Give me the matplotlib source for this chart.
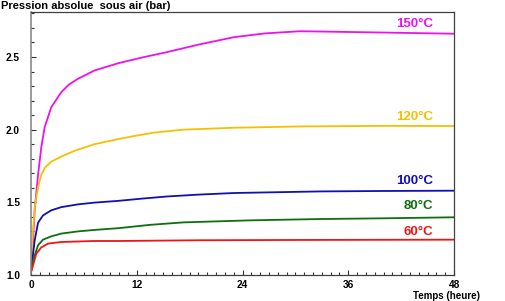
import numpy as np
import matplotlib
matplotlib.use("Agg")
import matplotlib.pyplot as plt
from matplotlib.ticker import MultipleLocator

plt.rcParams['font.family'] = ['Liberation Sans', 'DejaVu Sans']

# temps (heures) / pression absolue (bar)
t150 = [0, 0.1, 0.23, 0.42, 0.8, 1.17, 1.55, 2.3, 3.44, 4.3, 5.33, 7.2, 9.9, 12.5, 15.4, 19.0, 23.0, 26.5, 30.5, 33.0, 40.0, 48.0]
p150 = [1.02, 1.12, 1.24, 1.45, 1.69, 1.88, 2.017, 2.155, 2.258, 2.31, 2.35, 2.407, 2.457, 2.495, 2.533, 2.585, 2.636, 2.662, 2.677, 2.675, 2.668, 2.66]

t120 = [0, 0.1, 0.2, 0.42, 0.8, 1.17, 1.6, 2.3, 3.44, 4.96, 7.2, 9.9, 11.6, 14.0, 17.3, 23.0, 30.5, 40.0, 48.0]
p120 = [1.02, 1.15, 1.28, 1.467, 1.605, 1.69, 1.74, 1.78, 1.815, 1.855, 1.90, 1.935, 1.955, 1.98, 2.0, 2.013, 2.022, 2.026, 2.025]

t100 = [0, 0.11, 0.42, 0.8, 1.36, 2.3, 3.44, 5.33, 7.2, 9.9, 12.5, 15.4, 19.0, 23.0, 32.8, 40.0, 48.0]
p100 = [1.02, 1.08, 1.24, 1.36, 1.41, 1.445, 1.467, 1.486, 1.498, 1.51, 1.525, 1.54, 1.553, 1.564, 1.575, 1.578, 1.58]

t80 = [0, 0.23, 0.8, 1.36, 2.3, 3.44, 5.33, 7.2, 9.9, 13.5, 17.3, 24.9, 32.8, 40.0, 48.0]
p80 = [1.02, 1.10, 1.205, 1.243, 1.266, 1.285, 1.30, 1.31, 1.322, 1.345, 1.362, 1.376, 1.385, 1.39, 1.397]

t60 = [0, 0.23, 0.6, 1.17, 1.93, 3.44, 7.2, 9.9, 19.2, 30.0, 48.0]
p60 = [1.02, 1.067, 1.147, 1.19, 1.216, 1.227, 1.234, 1.234, 1.239, 1.241, 1.243]

labels = ['150°C', '120°C', '100°C', '80°C', '60°C']
label_y = [2.73, 2.087, 1.647, 1.475, 1.296]
colors = ['#EE10EE', '#F5C000', '#1010B4', '#0C7010', '#F01414']

fig = plt.figure(figsize=(5.06, 3.01), dpi=100)
ax = fig.add_axes([0.0613, 0.0864, 0.836, 0.874])

series = [(t150, p150), (t120, p120), (t100, p100), (t80, p80), (t60, p60)]
for (t, p), c in zip(series, colors):
    ax.plot(t, p, color=c, lw=1.3, solid_capstyle='round', solid_joinstyle='round')

for lab, ly, c in zip(labels, label_y, colors):
    ax.text(45.6, ly, lab, color=c, fontsize=9.5, fontweight='bold', ha='right', va='center')

ax.set_xlim(0, 48)
ax.set_ylim(1.0, 2.81)
ax.xaxis.set_major_locator(MultipleLocator(12))
ax.xaxis.set_minor_locator(MultipleLocator(1))
ax.yaxis.set_major_locator(MultipleLocator(0.5))
ax.yaxis.set_minor_locator(MultipleLocator(0.1))
ax.yaxis.set_major_formatter(plt.FuncFormatter(lambda v, pos: '%.1f' % v))

ax.tick_params(which='both', direction='in', colors='#303030', width=0.8,
               labelsize=7.3, top=False, right=False)
ax.tick_params(which='major', length=3.5)
ax.tick_params(which='minor', length=2)
ax.tick_params(axis='y', pad=8)
ax.tick_params(axis='x', pad=3.5)
for lbl in ax.get_xticklabels() + ax.get_yticklabels():
    lbl.set_fontweight('bold')
    lbl.set_color('black')

for side in ['top', 'right', 'bottom']:
    ax.spines[side].set_color('#404040')
    ax.spines[side].set_linewidth(0.9)
ax.spines['left'].set_color('#808080')
ax.spines['left'].set_linewidth(1.1)

fig.text(0.002, 1 - 9 / 301, 'Pression absolue  sous air (bar)', fontsize=8,
         fontweight='bold', ha='left', va='baseline')
fig.text(413 / 506, 0.0, 'Temps (heure)', fontsize=7,
         fontweight='bold', ha='left', va='bottom')

fig.savefig('out.png', dpi=100)
